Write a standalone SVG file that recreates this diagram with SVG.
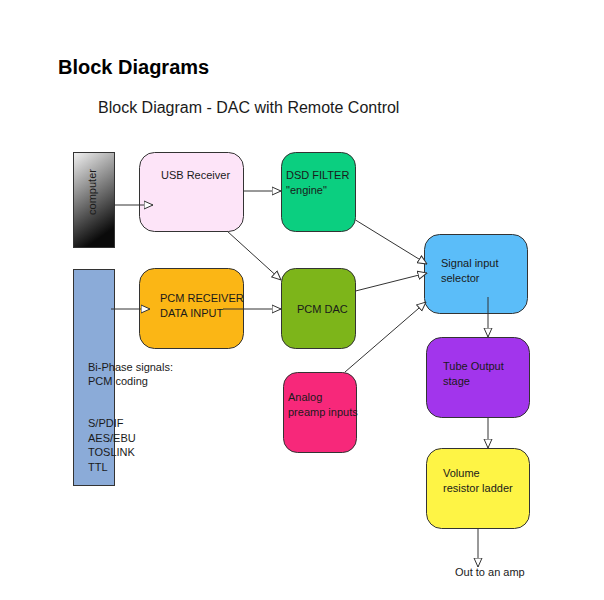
<svg xmlns="http://www.w3.org/2000/svg" width="604" height="600" viewBox="0 0 604 600">
<defs>
<linearGradient id="gComp" x1="0" y1="0" x2="0.3" y2="1">
<stop offset="0" stop-color="#f2f2f2"/>
<stop offset="1" stop-color="#0a0a0a"/>
</linearGradient>
<marker id="arr" viewBox="0 0 10 10" refX="9.5" refY="5" markerWidth="10" markerHeight="10" markerUnits="userSpaceOnUse" orient="auto">
<path d="M0.5,1 L9.5,5 L0.5,9 Z" fill="#fff" stroke="#333" stroke-width="1"/>
</marker>
<style>
text{font-family:"Liberation Sans",Arial,sans-serif;fill:#1a1a1a;}
.lbl{font-size:11px;}
.box{stroke:#333;stroke-width:1;}
.con line{stroke:#333;stroke-width:1;fill:none;marker-end:url(#arr);}
</style>
</defs>
<rect width="604" height="600" fill="#fff"/>
<text x="58" y="74" style="font-size:20px;font-weight:bold;fill:#000">Block Diagrams</text>
<text x="98" y="113" style="font-size:16px">Block Diagram - DAC with Remote Control</text>

<g id="computer">
<rect class="box" x="73.5" y="152.5" width="41" height="95" fill="url(#gComp)"/>
<text class="lbl" transform="translate(96,192) rotate(-90)" text-anchor="middle">computer</text>
</g>
<g id="biphase">
<rect class="box" x="73.5" y="269.5" width="41" height="216" fill="#8babd8"/>
<text class="lbl" x="88" y="371">Bi-Phase signals:</text>
<text class="lbl" x="88" y="385">PCM coding</text>
<text class="lbl" x="88" y="427">S/PDIF</text>
<text class="lbl" x="88" y="441.5">AES/EBU</text>
<text class="lbl" x="88" y="456">TOSLINK</text>
<text class="lbl" x="88" y="470.5">TTL</text>
</g>
<g id="usb">
<rect class="box" x="139.5" y="152.5" width="104" height="79" rx="15" fill="#fde4f8"/>
<text class="lbl" x="161" y="179">USB Receiver</text>
</g>
<g id="dsd">
<rect class="box" x="281.5" y="152.5" width="74" height="79" rx="14" fill="#0bcf80"/>
<text class="lbl" x="286" y="179">DSD FILTER</text>
<text class="lbl" x="286" y="194">"engine"</text>
</g>
<g id="pcmrx">
<rect class="box" x="139.5" y="268.5" width="104" height="80" rx="15" fill="#fbb615"/>
<text class="lbl" x="160" y="302">PCM RECEIVER</text>
<text class="lbl" x="160" y="317">DATA INPUT</text>
</g>
<g id="pcmdac">
<rect class="box" x="281.5" y="268.5" width="74" height="80" rx="14" fill="#7db51a"/>
<text class="lbl" x="297" y="313">PCM DAC</text>
</g>
<g id="selector">
<rect class="box" x="424.5" y="234.5" width="103" height="79" rx="15" fill="#5bbdf9"/>
<text class="lbl" x="441" y="267">Signal input</text>
<text class="lbl" x="441" y="282">selector</text>
</g>
<g id="analog">
<rect class="box" x="283.5" y="372.5" width="73" height="80" rx="14" fill="#f7287a"/>
<text class="lbl" x="288" y="401">Analog</text>
<text class="lbl" x="288" y="416">preamp inputs</text>
</g>
<g id="tube">
<rect class="box" x="426.5" y="337.5" width="103" height="80" rx="15" fill="#a235ec"/>
<text class="lbl" x="443" y="370">Tube Output</text>
<text class="lbl" x="443" y="385">stage</text>
</g>
<g id="volume">
<rect class="box" x="426.5" y="448.5" width="103" height="80" rx="15" fill="#fef445"/>
<text class="lbl" x="443" y="477">Volume</text>
<text class="lbl" x="443" y="492">resistor ladder</text>
</g>
<text class="lbl" x="455" y="576">Out to an amp</text>

<g id="connectors" class="con">
<line x1="114.5" y1="205" x2="153" y2="205"/>
<line x1="243.5" y1="191" x2="281" y2="191"/>
<line x1="227" y1="231" x2="281" y2="280"/>
<line x1="111" y1="309" x2="150" y2="309"/>
<line x1="223" y1="309" x2="281" y2="309"/>
<line x1="355.5" y1="220" x2="427" y2="264"/>
<line x1="355.5" y1="291" x2="427" y2="273"/>
<line x1="345" y1="372" x2="426" y2="302"/>
<line x1="488" y1="297" x2="488" y2="337"/>
<line x1="488" y1="418" x2="488" y2="448"/>
<line x1="478" y1="529" x2="478" y2="567"/>
</g>
</svg>
